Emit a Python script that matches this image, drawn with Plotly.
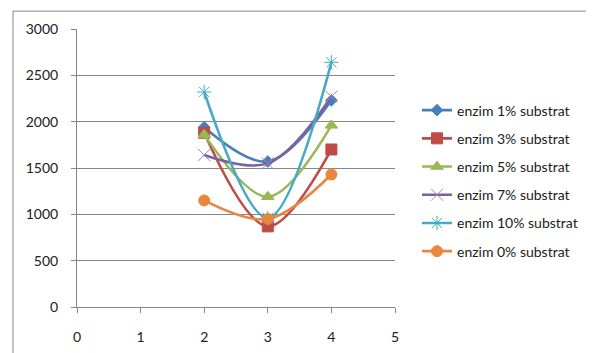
import plotly.graph_objects as go

x_vals = [2, 3, 4]
names = ["enzim 1% substrat", "enzim 3% substrat", "enzim 5% substrat",
         "enzim 7% substrat", "enzim 10% substrat", "enzim 0% substrat"]
s1 = [1940, 1570, 2230]
s3 = [1880, 870, 1700]
s5 = [1860, 1190, 1960]
s7 = [1640, 1550, 2270]
s10 = [2320, 960, 2640]
s0 = [1150, 950, 1430]

series = [s1, s3, s5, s7, s10, s0]
colors = ["#4A7EBB", "#BE4B48", "#98B954", "#7D60A0", "#46AAC5", "#E8873F"]
mcolors = ["#4A7EBB", "#BE4B48", "#98B954", "#9A86B8", "#46AAC5", "#E8873F"]
symbols = ["diamond", "square", "triangle-up", "x-thin-open", "asterisk-open", "circle"]
sizes = [9, 11, 11, 12, 12, 11]

fig = go.Figure()
for i, (nm, ys) in enumerate(zip(names, series)):
    fig.add_trace(go.Scatter(
        x=x_vals, y=ys, name=nm, mode="lines+markers",
        line=dict(color=colors[i], width=2.6, shape="spline", smoothing=1),
        marker=dict(symbol=symbols[i], size=sizes[i], color=mcolors[i],
                    line=dict(color=mcolors[i], width=1)),
        legendgroup=str(i),
    ))

OFF = 8  # page body margin
W, H = 594, 353
L, R, T, B = 77 - OFF, 395 - OFF, 27 - OFF, 307 - OFF
pw, ph = R - L, B - T

def px(p):
    return (p - OFF - L) / pw

def py(p):
    return (B - (p - OFF)) / ph

fig.update_layout(
    width=W, height=H,
    margin=dict(l=L, r=W - R, t=T, b=H - B, pad=0),
    paper_bgcolor="white", plot_bgcolor="white",
    font=dict(family="Lato, Open Sans, sans-serif", size=14, color="#202020"),
    showlegend=True,
    legend=dict(x=px(417), y=py(93), xanchor="left", yanchor="top",
                tracegroupgap=7, font=dict(size=14, color="#202020"),
                bgcolor="rgba(0,0,0,0)", itemwidth=30),
    xaxis=dict(range=[0, 5], tickvals=[0, 1, 2, 3, 4, 5], showgrid=False,
               zeroline=False, showline=True, linecolor="#868686", linewidth=1,
               ticks="outside", ticklen=5, tickcolor="#868686",
               ticklabelstandoff=12,
               tickfont=dict(size=14, color="#202020")),
    yaxis=dict(range=[0, 3000], tickvals=[0, 500, 1000, 1500, 2000, 2500, 3000],
               showgrid=True, gridcolor="#868686", gridwidth=1, zeroline=False,
               showline=True, linecolor="#868686", linewidth=1,
               ticks="outside", ticklen=5, tickcolor="#868686",
               ticklabelstandoff=10,
               tickfont=dict(size=14, color="#202020")),
    shapes=[dict(type="rect", xref="paper", yref="paper",
                 x0=px(13), x1=px(640), y0=py(9), y1=py(400),
                 line=dict(color="#868686", width=1), layer="below")],
)

fig.write_html("out.html")
